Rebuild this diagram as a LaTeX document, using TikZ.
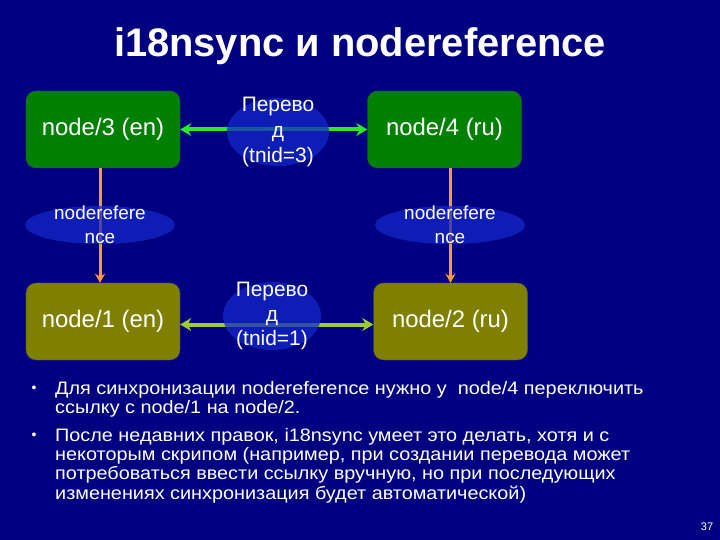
\documentclass[tikz,border=0pt]{standalone}
\usepackage{fontspec}
\setmainfont{Liberation Sans}
\newfontfamily\bodyfont[FakeStretch=1.1]{Liberation Sans}
\usetikzlibrary{shapes.geometric, arrows.meta}

\definecolor{slidebg}{RGB}{0,0,128}
\definecolor{boxgreen}{RGB}{0,128,0}
\definecolor{boxolive}{RGB}{128,128,0}
\definecolor{ovalblue}{RGB}{20,40,200}
\definecolor{linkgreen}{RGB}{40,235,40}
\definecolor{linkolive}{RGB}{154,205,50}
\definecolor{reforange}{RGB}{255,153,51}

\tikzset{
  nodebox/.style={draw=black!70, rounded corners=10bp, minimum width=154bp,
    minimum height=77bp, text=white, font=\fontsize{24}{28}\selectfont},
  oval/.style={ellipse, fill=ovalblue, fill opacity=0.75, inner sep=0pt},
  ovaltext/.style={text=white, align=center, inner sep=0pt},
  trlink/.style={line width=4bp, {Stealth[length=11bp,width=13bp]}-{Stealth[length=11bp,width=13bp]}},
  reflink/.style={line width=3bp, reforange, -{Stealth[length=9bp,width=10bp]}},
  bodytext/.style={text=white, anchor=north west, align=left, inner sep=0pt,
    font=\bodyfont\fontsize{18.1}{19.4}\selectfont}
}

\begin{document}
\begin{tikzpicture}[x=1bp, y=-1bp]

\fill[slidebg] (0,0) rectangle (720,540);

\node[text=white, font=\fontsize{40}{44}\bfseries] (title) at (360,46) {i18nsync и nodereference};

\node[nodebox, fill=boxgreen] (n3) at (103,129.5) {node/3 (en)};
\node[nodebox, fill=boxgreen] (n4) at (444.5,129.5) {node/4 (ru)};
\node[nodebox, fill=boxolive] (n1) at (103,321.5) {node/1 (en)};
\node[nodebox, fill=boxolive] (n2) at (450.5,321.5) {node/2 (ru)};

\draw[trlink, linkgreen] (n3) -- (n4);
\draw[trlink, linkolive] ([yshift=-3bp]n1.east) -- ([yshift=-3bp]n2.west);

\draw[reflink] ([xshift=-3bp]n3.south) -- ([xshift=-3bp]n1.north);
\draw[reflink] (n2.north |- n4.south) -- (n2.north);

% translation ovals
\node[oval, minimum width=102bp, minimum height=68bp] (tr3) at (278,132) {};
\node[ovaltext, font=\fontsize{21}{26}\selectfont] at (tr3) {Перево\\д\\(tnid=3)};
\node[oval, minimum width=98bp, minimum height=68bp] (tr1) at (272,316) {};
\node[ovaltext, font=\fontsize{21}{25}\selectfont] at (tr1) {Перево\\д\\(tnid=1)};

% reference ovals
\node[oval, minimum width=150bp, minimum height=38bp] (ref31) at (100,225) {};
\node[ovaltext, font=\fontsize{19}{24}\selectfont] at (ref31) {noderefere\\nce};
\node[oval, minimum width=150bp, minimum height=38bp] (ref42) at (450,225) {};
\node[ovaltext, font=\fontsize{19}{24}\selectfont] at (ref42) {noderefere\\nce};

\node[text=white, font=\fontsize{14}{14}\selectfont] (b1) at (34,389) {•};
\node[bodytext] (t1) at (55,381) {Для синхронизации nodereference нужно у\ \ node/4 переключить\\ссылку с node/1 на node/2.};
\node[text=white, font=\fontsize{14}{14}\selectfont] (b2) at (34,436) {•};
\node[bodytext] (t2) at (55,428) {После недавних правок, i18nsync умеет это делать, хотя и с\\некоторым скрипом (например, при создании перевода может\\потребоваться ввести ссылку вручную, но при последующих\\изменениях синхронизация будет автоматической)};

\node[text=white, font=\fontsize{11}{13}\selectfont] (page) at (707,527) {37};

\end{tikzpicture}
\end{document}
